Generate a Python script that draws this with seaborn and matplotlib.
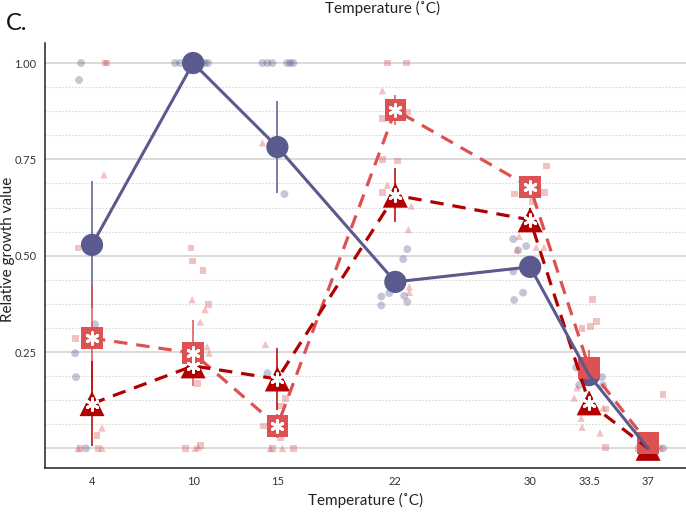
import numpy as np
import pandas as pd
import matplotlib
matplotlib.use("Agg")
import matplotlib.pyplot as plt
import seaborn as sns

# ---------------- data ----------------
temps = [4, 10, 15, 22, 30, 33.5, 37]
tick_labels = ["4", "10", "15", "22", "30", "33.5", "37"]
y_ticks = [0.25, 0.50, 0.75, 1.00]
y_tick_labels = ["0.25", "0.50", "0.75", "1.00"]

# means and error half-widths per temperature
mean_circle = [0.528, 1.000, 0.782, 0.432, 0.471, 0.190, 0.000]
err_circle = [0.165, 0.000, 0.120, 0.020, 0.020, 0.020, 0.000]
mean_square = [0.286, 0.247, 0.058, 0.878, 0.678, 0.209, 0.014]
err_square = [0.135, 0.085, 0.030, 0.040, 0.020, 0.045, 0.000]
mean_triangle = [0.116, 0.214, 0.180, 0.657, 0.593, 0.118, 0.000]
err_triangle = [0.110, 0.030, 0.080, 0.070, 0.030, 0.020, 0.000]
star_square = [1, 1, 1, 1, 1, 0, 0]
star_triangle = [1, 1, 1, 1, 1, 1, 0]

# individual replicate values (temperature, value, jitter in degrees)
circle_t = [4]*6 + [10]*6 + [15]*8 + [22]*7 + [30]*6 + [33.5]*4 + [37]*3
circle_v = [1.0, 0.956, 0.322, 0.247, 0.185, 0.0,
            1, 1, 1, 1, 1, 1,
            1, 1, 1, 1, 1, 1, 0.66, 0.195,
            0.517, 0.491, 0.403, 0.394, 0.371, 0.396, 0.38,
            0.543, 0.525, 0.514, 0.459, 0.404, 0.385,
            0.21, 0.164, 0.185, 0.164,
            0.0, 0.0, 0.0]
circle_j = [-0.65, -0.77, 0.18, -1.0, -0.95, -0.36,
            -1.07, -0.77, -0.36, 0.53, 0.71, 0.89,
            -0.89, -0.59, -0.30, 0.59, 0.77, 0.95, 0.42, -0.59,
            0.71, 0.47, -0.36, -0.83, -0.83, 0.53, 0.71,
            -1.0, -0.24, -0.71, -1.0, -0.42, -0.95,
            -0.77, -0.59, 0.77, 0.83,
            -0.12, 0.30, 0.89]

square_t = [4]*7 + [10]*7 + [15]*6 + [22]*7 + [30]*4 + [33.5]*6 + [37]*3
square_v = [1.0, 1.0, 0.52, 0.286, 0.034, 0.0, 0.0,
            0.52, 0.486, 0.462, 0.374, 0.169, 0.0, 0.008,
            0.13, 0.11, 0.058, 0.027, 0.0, 0.0,
            1.0, 1.0, 0.857, 0.873, 0.75, 0.746, 0.665,
            0.733, 0.66, 0.663, 0.64,
            0.387, 0.33, 0.317, 0.312, 0.102, 0.003,
            0.14, 0.0, 0.0]
square_j = [0.77, 0.89, -0.83, -1.0, 0.30, -0.71, 0.36,
            -0.12, -0.06, 0.59, 0.89, 0.24, -0.47, 0.42,
            0.47, 0.18, -0.83, 0.18, 0.95, -0.30,
            -0.47, 0.65, -0.77, 0.71, -0.77, 0.12, -0.77,
            0.95, -0.95, 0.83, 0.12,
            0.18, 0.42, 0.06, -0.42, 1.0, 0.95,
            0.89, -0.59, 0.71]

triangle_t = [4]*4 + [10]*7 + [15]*4 + [22]*6 + [30]*4 + [33.5]*6 + [37]*2
triangle_v = [0.71, 0.053, 0.0, 0.0,
              0.386, 0.36, 0.328, 0.264, 0.247, 0.0, 0.003,
              0.793, 0.27, 0.0, 0.0,
              0.928, 0.683, 0.629, 0.568, 0.419, 0.405,
              0.55, 0.516, 0.522, 0.522,
              0.157, 0.131, 0.078, 0.055, 0.04, 0.105,
              0.0, 0.0]
triangle_j = [0.71, 0.59, 0.59, -0.83,
              -0.06, 0.71, 0.42, 0.83, 0.95, 0.12, 0.30,
              -0.89, -0.71, -0.42, 0.30,
              -0.77, -0.47, 0.95, 0.77, 0.83, 0.83,
              -0.65, -0.77, 0.36, 0.83,
              -0.71, -0.89, -0.47, -0.42, 0.65, 0.83,
              -0.30, 0.47]

# ---------------- style ----------------
sns.set_style("white")
plt.rcParams["font.family"] = ["Lato", "DejaVu Sans"]

c_circle = "#5b5a8e"
c_square = "#dc5252"
c_triangle = "#b20000"

fig = plt.figure(figsize=(6.86, 5.14), dpi=100)
ax = fig.add_axes([45/686, 46/514, 1 - 45/686, (468 - 43)/514])

# grid lines
for v in np.arange(0, 1.0001, 0.0625):
    if abs(v / 0.25 - round(v / 0.25)) < 1e-6:
        ax.axhline(v, color="#d4d4d4", lw=1.2, zorder=0)
    else:
        ax.axhline(v, color="#dadada", lw=0.8, ls=(0, (1.5, 1.5)), zorder=0)

# jittered replicate points
pts = [
    (circle_t, circle_v, circle_j, c_circle, "o", 32),
    (square_t, square_v, square_j, c_square, "s", 24),
    (triangle_t, triangle_v, triangle_j, c_square, "^", 28),
]
for t, v, j, col, mk, s in pts:
    df = pd.DataFrame({"x": np.array(t) + np.array(j), "y": v})
    sns.scatterplot(data=df, x="x", y="y", color=col, marker=mk, s=s,
                    alpha=0.35, edgecolor="none", ax=ax, zorder=1)

# error bars
for m, e, col in [(mean_circle, err_circle, c_circle),
                  (mean_square, err_square, c_square),
                  (mean_triangle, err_triangle, c_triangle)]:
    ax.errorbar(temps, m, yerr=e, fmt="none", ecolor=col, elinewidth=1.1,
                capsize=0, zorder=2)

# mean markers
for m, col, mk, s in [(mean_circle, c_circle, "o", 16**2),
                      (mean_triangle, c_triangle, "^", 18**2),
                      (mean_square, c_square, "s", 15.5**2)]:
    sns.scatterplot(x=temps, y=m, color=col, marker=mk, s=s,
                    edgecolor="none", ax=ax, zorder=3)

# connecting lines
sns.lineplot(x=temps, y=mean_square, color=c_square, lw=2.3, ax=ax,
             zorder=4, dashes=False, linestyle=(0, (4.2, 2.8)))
sns.lineplot(x=temps, y=mean_triangle, color=c_triangle, lw=2.3, ax=ax,
             zorder=4, dashes=False, linestyle=(0, (4.2, 2.8)))
sns.lineplot(x=temps, y=mean_circle, color=c_circle, lw=2.2, ax=ax, zorder=4)

# significance asterisks
for m, flags in [(mean_square, star_square), (mean_triangle, star_triangle)]:
    xs = [t for t, f in zip(temps, flags) if f]
    ys = [v for v, f in zip(m, flags) if f]
    ax.scatter(xs, ys, marker=(6, 2, 0), s=72, color="white", lw=2.1, zorder=5)

# axes
ax.set_xlim(1.21, 39.25)
ax.set_ylim(-0.051, 1.052)
ax.set_xticks(temps)
ax.set_xticklabels(tick_labels)
ax.set_yticks(y_ticks)
ax.set_yticklabels(y_tick_labels)
ax.set_xlabel("Temperature (˚C)", fontsize=11, color="#222222", labelpad=4)
ax.set_ylabel("")
ax.tick_params(axis="both", labelsize=8, length=3, width=0.8,
               color="#333333", labelcolor="#333333", pad=3)
for side in ["top", "right"]:
    ax.spines[side].set_visible(False)
for side in ["left", "bottom"]:
    ax.spines[side].set_color("#222222")
    ax.spines[side].set_linewidth(1.1)

fig.text(0.012, 0.515, "Relative growth value", rotation=90, fontsize=11,
         ha="center", va="center", color="#222222")
fig.text(0.008, 0.955, "C.", fontsize=17, ha="left", va="center", color="#111111")
fig.text(383/686, 0.999, "Temperature (˚C)", fontsize=11, ha="center",
         va="top", color="#222222")

fig.savefig("out.png", dpi=100)
